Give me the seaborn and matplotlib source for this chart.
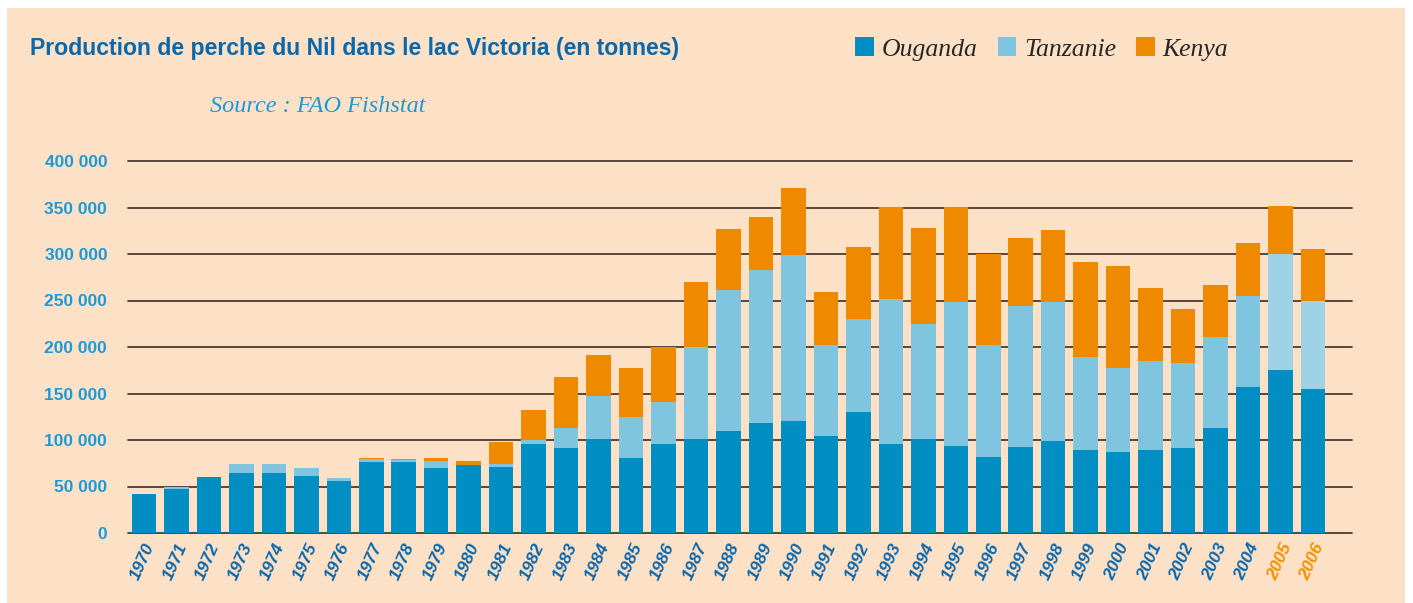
import numpy as np
import pandas as pd
import seaborn as sns
import matplotlib.pyplot as plt
from matplotlib.patches import Patch, Rectangle

years = [str(y) for y in range(1970, 2007)]
ouganda = [42000, 47000, 60000, 64500, 64500, 61300, 55900, 76300, 76300, 69900,
           73100, 71000, 95700, 91400, 101100, 80600, 95700, 101100, 109700, 118300,
           120500, 104300, 130000, 95700, 101100, 93600, 81800, 92500, 99000, 89300,
           87100, 89300, 91500, 112900, 157000, 175300, 154900]
tanzanie = [0, 2500, 0, 9700, 9700, 8600, 3200, 3300, 2200, 7500,
            0, 3200, 4300, 21500, 46200, 44100, 45200, 98600, 151800, 164700,
            178600, 97900, 100200, 156100, 123700, 154900, 120400, 151700, 149500, 100000,
            90400, 95700, 91400, 97900, 98100, 124900, 94700]
kenya = [0, 0, 0, 0, 0, 0, 0, 1000, 1100, 3200,
         4300, 23600, 32300, 54800, 44100, 52700, 58700, 70300, 64900, 57000,
         72100, 57100, 77400, 99000, 103300, 102300, 98000, 73200, 77500, 102200,
         109700, 78600, 58100, 56000, 56900, 51600, 55900]
yticks = [0, 50000, 100000, 150000, 200000, 250000, 300000, 350000, 400000]
labels = ["Ouganda", "Tanzanie", "Kenya"]

c_oug = "#008ec3"
c_tan = "#80c5e0"
c_tan_est = "#9fd1e7"
c_ken = "#ef8a00"
bg = "#fde1c7"
dark_blue = "#0a68ad"
light_blue = "#1a9ad8"

df = pd.DataFrame({"year": years, "Ouganda": ouganda, "Tanzanie": tanzanie, "Kenya": kenya})
df["ot"] = df["Ouganda"] + df["Tanzanie"]
df["total"] = df["ot"] + df["Kenya"]

sns.set_style("white")
plt.rcParams["font.family"] = ["Liberation Sans", "DejaVu Sans"]

fig = plt.figure(figsize=(14.13, 6.03), dpi=100)
fig.patches.append(Rectangle((7 / 1413, 0), 1398 / 1413, 595 / 603, transform=fig.transFigure,
                             facecolor=bg, edgecolor="none", zorder=-10))
ax = fig.add_axes([128 / 1413, 70 / 603, 1224 / 1413, 372 / 603])
ax.patch.set_alpha(0)

w = 0.755
bar_kw = dict(width=w, saturation=1, linewidth=0, edgecolor="none", ax=ax)
# stacked bars: draw the cumulative totals back to front
sns.barplot(data=df, x="year", y="total", color=c_ken, **bar_kw)
n = len(ax.patches)
sns.barplot(data=df, x="year", y="ot", color=c_tan, **bar_kw)
for p, yr in zip(ax.patches[n:], years):
    if yr in ("2005", "2006"):
        p.set_facecolor(c_tan_est)
sns.barplot(data=df, x="year", y="Ouganda", color=c_oug, **bar_kw)

for t in yticks:
    ax.axhline(t, color="#4b3a30", lw=1.3, zorder=0.5, clip_on=False)
for p in ax.patches:
    p.set_zorder(1)

ax.set_xlim(-0.49, 37.2)
ax.set_ylim(0, 400000)
ax.set_yticks(yticks)
ax.set_yticklabels([f"{t:,}".replace(",", " ") for t in yticks], color=light_blue,
                   fontsize=12.5, fontweight="bold")
ax.set_xticks(range(len(years)))
ax.set_xticklabels(years, rotation=66, ha="right", rotation_mode="anchor",
                   fontsize=12.5, fontweight="bold", fontstyle="italic", color=dark_blue)
for lbl in ax.get_xticklabels():
    if lbl.get_text() in ("2005", "2006"):
        lbl.set_color("#f39200")
ax.tick_params(axis="both", length=0)
ax.tick_params(axis="y", pad=15)
ax.tick_params(axis="x", pad=6)
ax.set_xlabel("")
ax.set_ylabel("")
sns.despine(ax=ax, left=True, bottom=True)

fig.text(30 / 1413, 1 - 49 / 603, "Production de perche du Nil dans le lac Victoria (en tonnes)",
         fontsize=16.6, fontweight="bold", color=dark_blue, va="center")
fig.text(210 / 1413, 1 - 107 / 603, "Source : FAO Fishstat", fontsize=17.5, fontstyle="italic",
         color=light_blue, va="center", family=["Liberation Serif", "DejaVu Serif"])

handles = [Patch(facecolor=c, edgecolor="none", linewidth=0) for c in (c_oug, c_tan, c_ken)]
fig.legend(handles, labels, loc="center left", bbox_to_anchor=(855 / 1413, 1 - 49 / 603),
           ncol=3, frameon=False, borderpad=0, borderaxespad=0,
           handlelength=0.72, handleheight=0.72, handletextpad=0.3, columnspacing=0.8,
           prop={"family": "Liberation Serif", "style": "italic", "size": 18.5})

fig.savefig("out.png", dpi=100)
